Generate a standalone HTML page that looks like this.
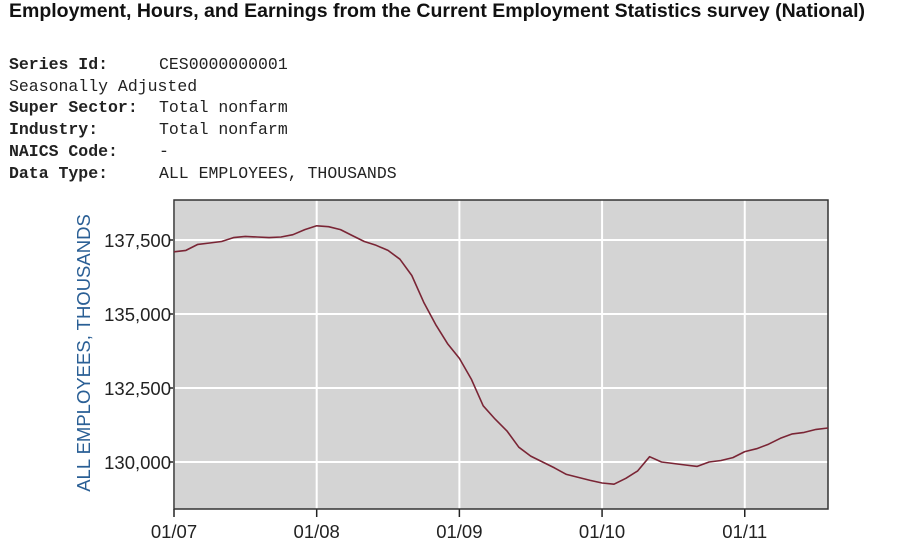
<!DOCTYPE html>
<html><head><meta charset="utf-8"><style>
body{margin:0;width:921px;height:549px;background:#fff;overflow:hidden;position:relative;font-family:"Liberation Sans",sans-serif}
#title{position:absolute;left:9px;top:0px;font-size:19.5px;font-weight:bold;color:#111;white-space:nowrap}
.row{position:absolute;left:9px;font-family:"Liberation Mono",monospace;font-size:16.5px;color:#222;white-space:nowrap}
.row b{display:inline-block;width:150px}
svg{position:absolute;left:0;top:0}
</style></head><body>
<div id="title">Employment, Hours, and Earnings from the Current Employment Statistics survey (National)</div>
<div class="row" style="top:55px"><b>Series Id:</b>CES0000000001</div>
<div class="row" style="top:77px">Seasonally Adjusted</div>
<div class="row" style="top:98px"><b>Super Sector:</b>Total nonfarm</div>
<div class="row" style="top:120px"><b>Industry:</b>Total nonfarm</div>
<div class="row" style="top:142px"><b>NAICS Code:</b>-</div>
<div class="row" style="top:164px"><b>Data Type:</b>ALL EMPLOYEES, THOUSANDS</div>
<svg id="chart" width="921" height="549"></svg>
<script>
const values=[137100,137150,137350,137400,137450,137580,137620,137600,137580,137600,137680,137850,
137980,137950,137850,137650,137450,137320,137150,136850,136300,135400,134650,134000,
133500,132800,131900,131450,131050,130500,130200,130000,129800,129580,129480,129380,
129290,129250,129450,129700,130180,130000,129950,129900,129850,130000,130050,130150,
130350,130450,130600,130800,130950,131000,131100,131150];
const yTicks=[130000,132500,135000,137500];
const yTickLabels=["130,000","132,500","135,000","137,500"];
const xTickMonths=[0,12,24,36,48];
const xTickLabels=["01/07","01/08","01/09","01/10","01/11"];
const NS="http://www.w3.org/2000/svg";
const svg=document.getElementById('chart');
const L=174,R=828,T=200,B=509;
const x=m=>L+m*(R-L)/55;
const y=v=>240+(137500-v)*74/2500;
function mk(t,a){const e=document.createElementNS(NS,t);for(const k in a)e.setAttribute(k,a[k]);svg.appendChild(e);return e;}
const bg=mk('rect',{x:L,y:T,width:R-L,height:B-T,fill:'#d4d4d4'});


yTicks.forEach((v,i)=>{
  const g=mk('line',{x1:L,x2:R,y1:y(v),y2:y(v),stroke:'#fff','stroke-width':2});
  
  
  const tk=mk('line',{x1:L-5,x2:L,y1:y(v),y2:y(v),stroke:'#222','stroke-width':1.5});
  
  
  const t=mk('text',{x:L-3,y:y(v)+7,'text-anchor':'end','font-size':18.5,fill:'#222','font-family':'Liberation Sans, sans-serif'});
  t.textContent=yTickLabels[i];
  
  
});
xTickMonths.forEach((m,i)=>{
  const g=mk('line',{x1:x(m),x2:x(m),y1:T,y2:B,stroke:'#fff','stroke-width':2});
  
  
  const tk=mk('line',{x1:x(m),x2:x(m),y1:B,y2:B+8,stroke:'#222','stroke-width':1.5});
  
  
  const t=mk('text',{x:x(m),y:B+29,'text-anchor':'middle','font-size':18.5,fill:'#222','font-family':'Liberation Sans, sans-serif'});
  t.textContent=xTickLabels[i];
  
  
});
const fr=mk('path',{d:`M${L},${T}H${R}V${B}H${L}Z`,fill:'none',stroke:'#333','stroke-width':1.5});


const pts=values.map((v,i)=>x(i).toFixed(1)+','+y(v).toFixed(1)).join(' ');
const ln=mk('polyline',{points:pts,fill:'none',stroke:'#7a2535','stroke-width':1.6,'stroke-linejoin':'round'});


const yt=mk('text',{x:0,y:0,transform:`translate(90,353) rotate(-90)`,'text-anchor':'middle','font-size':18.5,fill:'#2a5f95','font-family':'Liberation Sans, sans-serif'});
yt.textContent='ALL EMPLOYEES, THOUSANDS';


</script>
</body></html>
